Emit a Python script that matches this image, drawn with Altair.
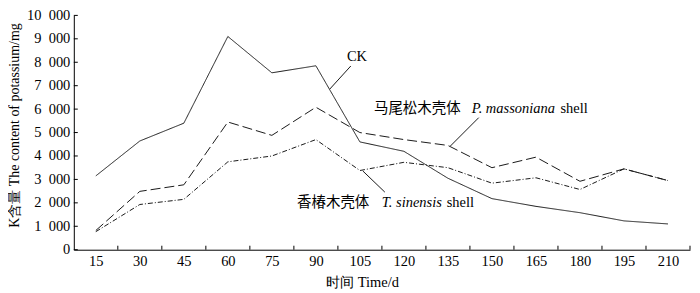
import altair as alt
import pandas as pd

# ---- data ----
days = [15, 30, 45, 60, 75, 90, 105, 120, 135, 150, 165, 180, 195, 210]
ck = [3150, 4640, 5400, 9100, 7550, 7850, 4600, 4200, 3050, 2180, 1850, 1580, 1230, 1100]
massoniana = [820, 2490, 2770, 5450, 4880, 6080, 5000, 4700, 4450, 3500, 3950, 2920, 3450, 2950]
sinensis = [770, 1930, 2150, 3750, 4000, 4700, 3380, 3730, 3500, 2840, 3070, 2570, 3450, 2950]
series_names = ["CK", "P. massoniana shell", "T. sinensis shell"]
y_ticks = [0, 1000, 2000, 3000, 4000, 5000, 6000, 7000, 8000, 9000, 10000]
x_tick_marks = [22.5, 37.5, 52.5, 67.5, 82.5, 97.5, 112.5, 127.5, 142.5, 157.5,
                172.5, 187.5, 202.5, 217.5]  # inner tick marks between day labels

# annotation anchors (day, value)
ck_label = {"day": 104.0, "val": 8220}
ck_leader = [(101.9, 7840), (94.7, 6850)]
mas_label = {"day": 109.8, "val": 6017}
mas_leader = [(145.5, 5636), (135.8, 4420)]
sin_label = {"day": 83.6, "val": 2004}
sin_leader = [(106.0, 3360), (113.5, 2458)]

SERIF = "Liberation Serif, Times New Roman, Times, DejaVu Serif, serif"
CJK = "Noto Sans CJK SC"
INK = "#1a1a1a"
W, H = 618, 235

rows = []
for name, vals in zip(series_names, [ck, massoniana, sinensis]):
    for d, v in zip(days, vals):
        rows.append({"day": d, "value": v, "series": name})
df = pd.DataFrame(rows)

x_scale = alt.Scale(domain=[7.5, 217.5], nice=False, zero=False)
y_scale = alt.Scale(domain=[0, 10000], nice=False)

x_axis = alt.Axis(
    values=days,
    ticks=False,
    labelPadding=5,
    labelOverlap=False,
    labelFlush=False,
    grid=False,
    domainColor="black",
    labelColor="black",
    labelFont=SERIF,
    labelFontSize=14.5,
    title="时间  Time/d",
    titleFont=SERIF,
    titleFontSize=14.5,
    titleFontWeight="normal",
    titleColor="black",
    titleX=289,
    titleY=37,
    titleBaseline="alphabetic",
)

y_axis = alt.Axis(
    values=y_ticks,
    labelExpr="replace(format(datum.value, ','), ',', '\u2002')",
    ticks=False,
    labelPadding=4,
    labelOverlap=False,
    labelFlush=False,
    grid=False,
    domainColor="black",
    labelColor="black",
    labelFont=SERIF,
    labelFontSize=14.5,
    title="K含量 The content of potassium/mg",
    titleFont=SERIF,
    titleFontSize=14,
    titleFontWeight="normal",
    titleColor="black",
    titleX=-55.5,
    titleY=110,
    titleBaseline="alphabetic",
)

def X(field):
    return alt.X(field, type="quantitative", scale=x_scale, axis=x_axis)

def Y(field):
    return alt.Y(field, type="quantitative", scale=y_scale, axis=y_axis)

lines = alt.Chart(df).mark_line(strokeWidth=1, color=INK).encode(
    x=X("day"),
    y=Y("value"),
    strokeDash=alt.StrokeDash(
        "series:N",
        scale=alt.Scale(domain=series_names, range=[[1, 0], [10, 4], [5, 2, 1, 2]]),
        legend=None,
    ),
    detail="series:N",
)

# inward tick marks
xt = alt.Chart(pd.DataFrame({"day": x_tick_marks})).mark_rule(color="black", strokeWidth=1).encode(
    x=X("day"), y=alt.value(H), y2=alt.value(H - 4)
)
yt = alt.Chart(pd.DataFrame({"value": y_ticks})).mark_rule(color="black", strokeWidth=1).encode(
    y=Y("value"), x=alt.value(0), x2=alt.value(4)
)

def leader(points):
    d = pd.DataFrame({"day": [p[0] for p in points], "value": [p[1] for p in points]})
    return alt.Chart(d).mark_line(strokeWidth=1, color=INK).encode(x=X("day"), y=Y("value"))

def text(anchor, txt, font, style="normal", dx=0, align="left", weight="normal"):
    d = pd.DataFrame({"day": [anchor["day"]], "value": [anchor["val"]], "t": [txt]})
    return alt.Chart(d).mark_text(
        font=font, fontSize=14.5, fontStyle=style, fontWeight=weight, color="black",
        align=align, baseline="middle", dx=dx
    ).encode(x=X("day"), y=Y("value"), text="t:N")

layers = [
    lines, xt, yt,
    leader(ck_leader),
    leader(mas_leader),
    leader(sin_leader),
    text(ck_label, "CK", SERIF, align="center"),
    text(mas_label, "马尾松木壳体", CJK),
    text(mas_label, "P. massoniana", SERIF, style="italic", dx=98),
    text(mas_label, "shell", SERIF, dx=187),
    text(sin_label, "香椿木壳体", CJK),
    text(sin_label, "T. sinensis", SERIF, style="italic", dx=85),
    text(sin_label, "shell", SERIF, dx=150),
]

chart = alt.layer(*layers).properties(
    width=W,
    height=H,
    autosize=alt.AutoSizeParams(type="none"),
    padding={"left": 66, "top": 7, "right": 2, "bottom": 43},
    background="white",
).configure_view(stroke=None).configure_axis(labelOverlap=False)

chart.save("out.html", embed_options={"renderer": "svg", "actions": False})
